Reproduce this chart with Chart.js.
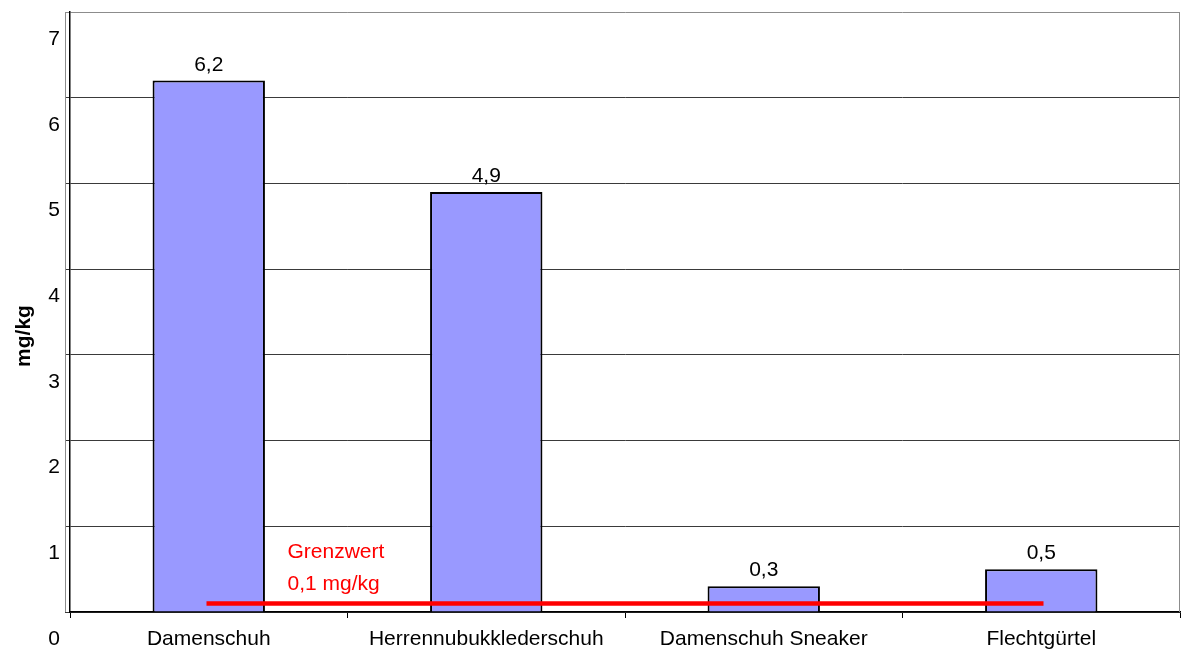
<!DOCTYPE html>
<html>
<head>
<meta charset="utf-8">
<script src="https://cdn.jsdelivr.net/npm/chart.js@4"></script>
<style>
  html, body { margin: 0; padding: 0; background: #fff; }
  #wrap { width: 1185px; height: 650px; }
</style>
</head>
<body>
<div id="wrap"><canvas id="c" width="1185" height="650"></canvas></div>
<script>
// Gemessene Gehalte je Produkt (mg/kg)
const categories = ['Damenschuh', 'Herrennubukklederschuh', 'Damenschuh Sneaker', 'Flechtgürtel'];
const values = [6.2, 4.9, 0.3, 0.5];
// Grenzwert 0,1 mg/kg als durchgehende Linie
const limitLine = [0.1, 0.1, 0.1, 0.1];
const limitLabel = ['Grenzwert', '0,1 mg/kg'];
const axisTitle = 'mg/kg';
const yMin = 0, yMax = 7, yStep = 1;

const FONT = 'Liberation Sans, Arial, sans-serif';

const fmt = v => String(v).replace('.', ',');

// Wertebeschriftungen, Achsentitel und Rahmenlinien
const extras = {
  id: 'extras',
  beforeDatasetsDraw(chart) {
    const { ctx, chartArea: a } = chart;
    ctx.save();
    ctx.strokeStyle = '#8c8c8c';
    ctx.lineWidth = 1;
    ctx.beginPath();
    ctx.moveTo(a.left - 5 + 0.5, a.top);
    ctx.lineTo(a.left - 5 + 0.5, a.bottom);
    ctx.moveTo(a.right - 0.5, a.top);
    ctx.lineTo(a.right - 0.5, a.bottom);
    ctx.stroke();
    ctx.restore();
  },
  afterDatasetsDraw(chart) {
    const { ctx, chartArea: a } = chart;
    const barMeta = chart.getDatasetMeta(1);
    ctx.save();
    ctx.font = '21px ' + FONT;
    ctx.fillStyle = '#000';
    ctx.textAlign = 'center';
    ctx.textBaseline = 'alphabetic';
    barMeta.data.forEach((bar, i) => {
      ctx.fillText(fmt(values[i]), bar.x, bar.y - 10);
    });

    // Grenzwert-Beschriftung
    const y = chart.scales.y;
    const x = chart.scales.x;
    ctx.fillStyle = '#ff0000';
    ctx.textAlign = 'left';
    const lx = (x.getPixelForValue(0) + x.getPixelForValue(1)) / 2 - 60;
    ctx.fillText(limitLabel[0], lx, y.getPixelForValue(limitLine[0]) - 45);
    ctx.fillText(limitLabel[1], lx, y.getPixelForValue(limitLine[0]) - 13);

    // Achsentitel
    ctx.fillStyle = '#000';
    ctx.font = 'bold 21px ' + FONT;
    ctx.translate(24, (a.top + a.bottom) / 2 + 24);
    ctx.rotate(-Math.PI / 2);
    ctx.textAlign = 'center';
    ctx.textBaseline = 'middle';
    ctx.fillText(axisTitle, 0, 0);
    ctx.restore();
  }
};

new Chart(document.getElementById('c'), {
  type: 'bar',
  data: {
    labels: categories,
    datasets: [
      {
        type: 'line',
        data: limitLine,
        borderColor: '#ff0000',
        borderWidth: 4.5,
        borderCapStyle: 'square',
        pointRadius: 0,
        fill: false,
        order: 0
      },
      {
        type: 'bar',
        data: values,
        backgroundColor: '#9999ff',
        borderColor: '#000000',
        borderWidth: 2,
        barPercentage: 0.405,
        categoryPercentage: 1.0,
        order: 1
      }
    ]
  },
  options: {
    responsive: false,
    animation: false,
    layout: { padding: { top: 12, right: 5, left: 0, bottom: 0 } },
    plugins: { legend: { display: false }, tooltip: { enabled: false } },
    scales: {
      x: {
        afterFit(s) {
          s.height = 38;
          s.paddingLeft = 0; s.paddingRight = 0;
        },
        grid: {
          offset: true,
          drawOnChartArea: false,
          tickLength: 6,
          color: '#000'
        },
        border: { color: '#000', width: 1.5 },
        ticks: {
          font: { family: FONT, size: 21 },
          color: '#000',
          padding: 9,
          maxRotation: 0,
          autoSkip: false
        }
      },
      y: {
        min: yMin,
        max: yMax,
        afterFit(s) {
          s.width = 70;
          s.paddingTop = 0; s.paddingBottom = 0;
        },
        grid: {
          color: ctx => (ctx.tick && ctx.tick.value === yMax) ? '#8c8c8c' : '#3a3a3a',
          tickLength: 5,
          lineWidth: 1
        },
        border: { color: '#000', width: 1.5 },
        ticks: {
          stepSize: yStep,
          font: { family: FONT, size: 21 },
          color: '#000',
          padding: 5,
          labelOffset: 27,
          autoSkip: false
        }
      }
    }
  },
  plugins: [extras]
});
</script>
</body>
</html>
